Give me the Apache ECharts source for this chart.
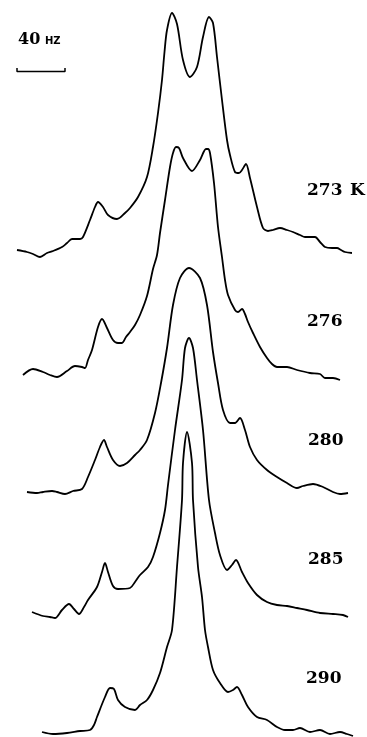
<!DOCTYPE html>
<html>
<head>
<meta charset="utf-8">
<title>NMR spectra vs temperature</title>
<script src="https://cdn.jsdelivr.net/npm/echarts@6/dist/echarts.min.js"></script>
<style>
  html, body { margin: 0; padding: 0; background: #fff; }
  #chart { width: 367px; height: 737px; }
</style>
</head>
<body>
<div id="chart"></div>
<script>
// traces: [frequency position, depth down the stack]
const temps = ['273', '276', '280', '285', '290'];

const t273 = [
  [17, 250], [27, 252], [33, 254], [40, 257], [47, 253], [53, 251], [62, 247], [67, 243],
  [72, 239], [80, 239], [83, 237], [90, 220], [95, 207], [98, 202], [103, 207], [108, 215],
  [117, 219], [125, 213], [130, 208], [138, 197], [147, 177], [153, 147], [158, 113],
  [162, 80], [164.5, 52], [167, 30], [172, 13], [177, 24], [183, 60], [190, 77], [197, 67],
  [203, 37], [209, 17], [213, 23], [217, 57], [222, 100], [227, 140], [230, 155], [235, 172],
  [239, 173], [242, 170], [246, 164], [250, 178], [257, 207], [263, 228], [268, 231],
  [273, 230], [280, 228], [287, 230], [293, 232], [300, 235], [305, 237], [315, 237],
  [320, 242], [325, 247], [332, 248], [337, 248], [341, 250], [345, 252], [352, 253]
];

const t276 = [
  [23, 375], [33, 369], [43, 372], [50, 375], [57, 377], [67, 371], [75, 366], [82, 367],
  [85, 368], [88, 360], [92, 350], [98, 327], [102, 319], [107, 328], [113, 340],
  [118, 343], [122, 343], [126, 337], [130, 332], [135, 325], [140, 315], [147, 296],
  [153, 269], [157, 255], [160, 233], [165, 200], [170, 167], [173, 153], [176, 147],
  [179, 148], [183, 158], [192, 171], [200, 160], [206, 149], [208, 149], [210, 153], [214, 183],
  [218, 227], [222, 257], [225, 280], [228, 295], [235, 310], [238, 312], [242, 309],
  [245, 314], [248, 322], [253, 333], [260, 347], [267, 358], [272, 364], [277, 367],
  [287, 367], [297, 370], [310, 373], [320, 374], [325, 378], [333, 378], [340, 380]
];

const t280 = [
  [27, 492], [37, 493], [43, 492], [52, 491], [57, 492], [65, 494], [73, 491], [82, 489],
  [88, 477], [95, 460], [100, 447], [104, 440], [107, 447], [113, 460], [120, 466],
  [127, 463], [135, 455], [140, 450], [147, 440], [155, 413], [161, 383], [167, 348],
  [173, 305], [180, 278], [189, 268], [200, 278], [207, 305], [213, 352], [218, 383],
  [223, 410], [230, 423], [235, 423], [240, 418], [245, 430], [250, 447], [257, 460],
  [267, 470], [277, 477], [287, 483], [297, 488], [303, 486], [313, 484], [323, 487],
  [333, 492], [340, 494], [348, 493]
];

const t285 = [
  [32, 612], [43, 616], [50, 617], [55, 618], [62, 610], [69, 604], [74, 609], [79, 614],
  [84, 607], [88, 600], [97, 587], [102, 572], [105, 563], [108, 572], [113, 586],
  [118, 589], [130, 588], [135, 582], [140, 575], [148, 567], [153, 557], [160, 533],
  [165, 510], [168, 485], [175, 430], [182, 380], [185, 348], [189, 338], [193, 348],
  [197, 380], [203, 430], [209, 500], [215, 533], [220, 555], [227, 570], [232, 565],
  [236, 560], [242, 572], [248, 583], [257, 595], [267, 602], [277, 605], [287, 606],
  [297, 608], [307, 610], [320, 613], [333, 614], [343, 615], [348, 617]
];

const t290 = [
  [42, 732], [53, 734], [67, 733], [80, 731], [90, 730], [94, 725], [97, 717], [105, 697],
  [110, 688], [114, 689], [118, 700], [125, 707], [135, 710], [140, 705], [147, 700],
  [153, 690], [160, 673], [167, 647], [172, 630], [177, 567], [182, 500], [183, 463],
  [187, 432], [192, 463], [193, 500], [198, 567], [202, 597], [205, 630], [208, 647],
  [213, 670], [220, 683], [228, 692], [233, 690], [237, 687], [242, 695], [248, 707],
  [257, 717], [267, 720], [277, 727], [285, 730], [293, 730], [300, 728], [310, 732],
  [320, 730], [330, 734], [340, 732], [347, 734], [353, 736]
];

const traces = [t273, t276, t280, t285, t290];

// 40 Hz scale bar
const scaleBar = [[17, 68], [17, 71.5], [65, 71.5], [65, 68]];

const chart = echarts.init(document.getElementById('chart'));

const lineSeries = traces.map((d, i) => ({
  name: temps[i],
  type: 'line',
  data: d,
  smooth: 0.3,
  showSymbol: false,
  silent: true,
  lineStyle: { color: '#000', width: 1.8 }
}));

const labelFont = 'bold 17px "DejaVu Serif"';
const tempLabels = [
  { text: '273', x: 307, y: 191 },
  { text: 'K', x: 350, y: 191 },
  { text: temps[1], x: 307, y: 322 },
  { text: temps[2], x: 308, y: 441 },
  { text: temps[3], x: 308, y: 560 },
  { text: temps[4], x: 306, y: 679 }
];

chart.setOption({
  animation: false,
  backgroundColor: '#fff',
  grid: { left: 0, right: 0, top: 0, bottom: 0 },
  xAxis: { type: 'value', min: 0, max: 367, show: false },
  yAxis: { type: 'value', min: 0, max: 737, inverse: true, show: false },
  series: [
    ...lineSeries,
    {
      name: 'scale',
      type: 'line',
      data: scaleBar,
      showSymbol: false,
      silent: true,
      lineStyle: { color: '#000', width: 1.5 }
    }
  ],
  graphic: [
    {
      type: 'text', x: 18, y: 40,
      style: { text: '40', font: 'bold 16px "DejaVu Serif"', fill: '#000', verticalAlign: 'middle' }
    },
    {
      type: 'text', x: 45, y: 41.5,
      style: { text: 'HZ', font: 'bold 10px "DejaVu Sans"', fill: '#000', verticalAlign: 'middle' }
    },
    ...tempLabels.map(l => ({
      type: 'text', x: l.x, y: l.y,
      style: { text: l.text, font: labelFont, fill: '#000', verticalAlign: 'middle' }
    }))
  ]
});
</script>
</body>
</html>
